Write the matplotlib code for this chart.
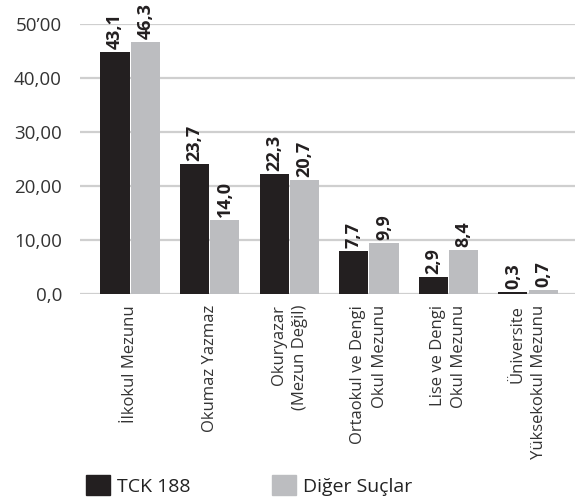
import numpy as np
import matplotlib.pyplot as plt
from matplotlib.patches import Patch

# ----- data -----
categories = ["İlkokul Mezunu", "Okumaz Yazmaz", "Okuryazar\n(Mezun Değil)",
              "Ortaokul ve Dengi\nOkul Mezunu", "Lise ve Dengi\nOkul Mezunu",
              "Üniversite\nYüksekokul Mezunu"]
tck_heights = [44.8, 24.1, 22.2, 8.0, 3.1, 0.3]
other_heights = [46.7, 13.7, 21.1, 9.4, 8.1, 0.7]
tck_labels = ["43,1", "23,7", "22,3", "7,7", "2,9", "0,3"]
other_labels = ["46,3", "14,0", "20,7", "9,9", "8,4", "0,7"]
yticks = [0, 10, 20, 30, 40, 50]
ytick_labels = ["0,0", "10,00", "20,00", "30,00", "40,00", "50’00"]

black = "#231f20"
grey = "#bcbdc0"

plt.rcParams['font.family'] = ['Open Sans', 'DejaVu Sans']

fig = plt.figure(figsize=(5.76, 5.03), dpi=100)
ax = fig.add_axes([80/576, 1-294/503, 495/576, 270/503])

x = np.arange(len(categories))
w = 0.365
off = 0.19
ax.bar(x - off, tck_heights, w, color=black, zorder=3)
ax.bar(x + off, other_heights, w, color=grey, zorder=3)

for xi, h, lab in zip(x - off, tck_heights, tck_labels):
    ax.text(xi, h + 0.6, lab, rotation=90, ha="center", va="bottom",
            fontsize=13, fontweight="bold", color=black, clip_on=False)
for xi, h, lab in zip(x + off, other_heights, other_labels):
    ax.text(xi, h + 0.6, lab, rotation=90, ha="center", va="bottom",
            fontsize=13, fontweight="bold", color=black, clip_on=False)

ax.set_xlim(-0.63, 5.59)
ax.set_ylim(0, 50)
ax.set_yticks(yticks)
ax.set_yticklabels(ytick_labels, fontsize=13.5, color="#333333")
ax.set_xticks(x)
ax.set_xticklabels(categories, rotation=90, fontsize=12, color="#333333",
                   ha="center", va="top", multialignment="right", linespacing=1.45)
ax.tick_params(length=0)
ax.tick_params(axis="y", pad=13)
ax.tick_params(axis="x", pad=8)
for s in ax.spines.values():
    s.set_visible(False)
ax.yaxis.grid(True, color="#cfcfcf", lw=1.6)
ax.set_axisbelow(True)

handles = [Patch(color=black, label="TCK 188"), Patch(color=grey, label="Diğer Suçlar")]
fig.legend(handles=handles, loc="lower left", bbox_to_anchor=(68/576, -0.02),
           ncol=2, frameon=False, fontsize=14, handlelength=1.25, handleheight=1.25,
           handletextpad=0.35, columnspacing=4.2, labelcolor="#222222")

fig.savefig("out.png", dpi=100)
